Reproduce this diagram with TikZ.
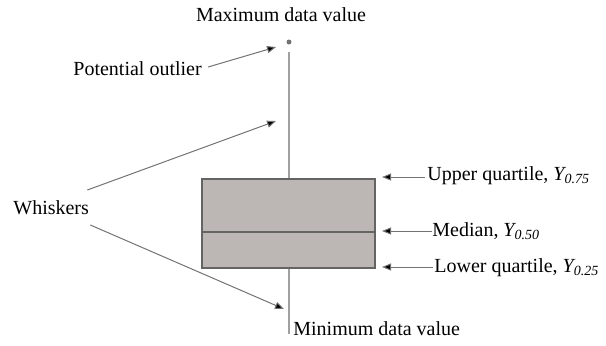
\documentclass[tikz,border=0pt]{standalone}
\usepackage{fontspec}
\setmainfont{Liberation Serif}[Ligatures=TeX]
\usetikzlibrary{arrows.meta}
\definecolor{boxfill}{RGB}{188,183,180}
\definecolor{boxline}{RGB}{100,100,100}
\definecolor{stemgray}{RGB}{160,160,160}
\begin{document}
\begin{tikzpicture}[x=0.5pt,y=-0.5pt,
  lbl/.style={inner sep=0pt, font=\rmfamily\fontsize{10}{12}\selectfont},
  pointer/.style={draw=black!55, line width=0.5pt, -{Triangle[length=4.5pt,width=3.5pt,fill=black]}},
  whisker/.style={draw=stemgray, line width=1.1pt},
  boxpart/.style={draw=boxline, line width=0.8pt, fill=boxfill}]
\useasboundingbox (0,0) rectangle (606,345);
% box with median line
\node (box) [boxpart, minimum width=86.5pt, minimum height=44.5pt, inner sep=0pt, anchor=north west] at (201,178) {};
\draw[draw=boxline, line width=0.8pt] (box.west |- 0,232) coordinate (medL) -- (box.east |- 0,232) coordinate (medR);
% whiskers and outlier
\coordinate (wtop) at (289,52);
\coordinate (wbot) at (289,334);
\draw[whisker] (wtop) -- (box.north -| wtop);
\draw[whisker] (box.south -| wbot) -- (wbot);
\node (outl) [circle, fill=black!55, inner sep=0pt, minimum size=2.5pt] at (289,42) {};
% labels
\node (maxl) [lbl] at (281,15) {Maximum data value};
\node (potl) [lbl, anchor=west] at (73,69) {Potential outlier};
\node (whl) [lbl, anchor=west] at (13,208) {Whiskers};
\node (upl) [lbl, anchor=west] at (427,176) {Upper quartile, {\itshape Y\textsubscript{0.75}}};
\node (medl) [lbl, anchor=west] at (432,231) {Median, {\itshape Y\textsubscript{0.50}}};
\node (lowl) [lbl, anchor=west] at (434,268) {Lower quartile, {\itshape Y\textsubscript{0.25}}};
\node (minl) [lbl, anchor=west] at (293,329) {Minimum data value};
% arrow targets
\coordinate (tOut) at (276,47);
\coordinate (tWu) at (276,121);
\coordinate (tWl) at (284,309);
\coordinate (tUp) at (382,177);
\coordinate (tMed) at (382,231);
\coordinate (tLow) at (382,267);
% pointers
\draw[pointer] (potl.east) ++(6,-2) coordinate (sOut) (sOut) -- (tOut);
\draw[pointer] (whl.east) ++(-2,-18) coordinate (sWu) (sWu) -- (tWu);
\draw[pointer] (whl.east) ++(1,17) coordinate (sWl) (sWl) -- (tWl);
\draw[pointer] (upl.west) ++(-2,1) coordinate (sUp) (sUp) -- (tUp);
\draw[pointer] (medl.west) coordinate (sMed) (sMed) -- (tMed);
\draw[pointer] (lowl.west) ++(-1,-1) coordinate (sLow) (sLow) -- (tLow);
\end{tikzpicture}
\end{document}
